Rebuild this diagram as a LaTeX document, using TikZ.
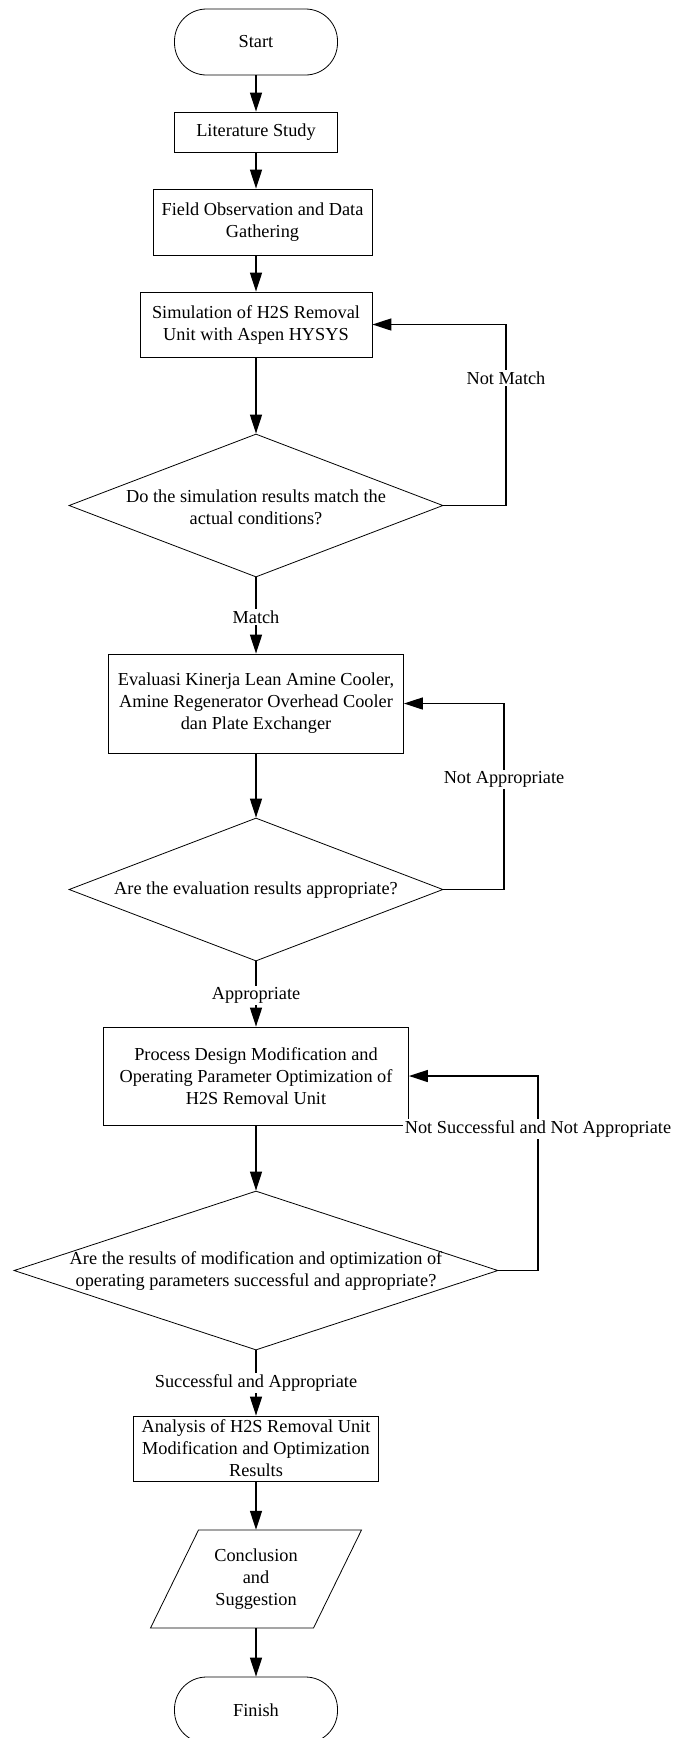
\documentclass[tikz,border=0pt]{standalone}
\usepackage{fontspec}
\setmainfont{Liberation Serif}
\usetikzlibrary{shapes.geometric,arrows.meta}
\begin{document}
\begin{tikzpicture}[x=1pt,y=-1pt,
  every node/.style={font=\fontsize{18.3}{22}\selectfont, align=center, inner sep=0pt},
  box/.style={draw, line width=0.8pt, rectangle},
  term/.style={draw, line width=0.8pt, rectangle, rounded corners=32pt, minimum width=163pt, minimum height=66pt},
  dec/.style={draw, line width=0.8pt, diamond, inner sep=0pt},
  shp/.style={draw, line width=0.8pt},
  arr/.style={line width=1.4pt, -{Triangle[length=19pt,width=12pt]}},
  lbl/.style={fill=white, inner sep=1.5pt}]
\clip (0,0) rectangle (676,1738);
\node[term] (start) at (256,42) {Start};
\node[box, minimum width=163pt, minimum height=40pt] (lit) at (256,132) {Literature Study};
\node[box, minimum width=219pt, minimum height=66pt] (field) at (262.5,222) {Field Observation and Data\\Gathering};
\node[box, minimum width=232pt, minimum height=65pt] (sim) at (256,324.5) {Simulation of H2S Removal\\Unit with Aspen HYSYS};
\node[dec, minimum width=374pt, minimum height=143pt] (d1) at (256,505.5) {};
\node (d1t) at (256,507.5) {Do the simulation results match the\\actual conditions?};
\node[box, minimum width=295pt, minimum height=99pt] (eval) at (256,703.5) {Evaluasi Kinerja Lean Amine Cooler,\\Amine Regenerator Overhead Cooler\\dan Plate Exchanger};
\node[dec, minimum width=374pt, minimum height=143pt] (d2) at (256,889.5) {};
\node (d2t) at (256,890) {Are the evaluation results appropriate?};
\node[box, minimum width=305pt, minimum height=98pt] (proc) at (256,1076) {Process Design Modification and\\Operating Parameter Optimization of\\H2S Removal Unit};
\node[dec, minimum width=484pt, minimum height=159pt] (d3) at (256,1270.5) {};
\node (d3t) at (256,1271) {Are the results of modification and optimization of\\operating parameters successful and appropriate?};
\node[box, minimum width=245pt, minimum height=65pt] (anal) at (256,1448.5) {Analysis of H2S Removal Unit\\Modification and Optimization\\Results};
\node[minimum height=98pt] (concl) at (256,1579) {Conclusion\\and\\Suggestion};
\draw[shp] ([xshift=-57.5pt,yshift=49pt]concl.center) -- ([xshift=105.5pt,yshift=49pt]concl.center)
  -- ([xshift=57.5pt,yshift=-49pt]concl.center) -- ([xshift=-105.5pt,yshift=-49pt]concl.center) -- cycle;
\node[term] (finish) at (256,1710) {Finish};

\draw[arr] (start.south) -- (lit.north);
\draw[arr] (lit.south) -- (lit.south |- field.north);
\draw[arr] (lit.south |- field.south) -- (sim.north);
\draw[arr] (sim.south) -- (d1.north);
\draw[arr] (d1.south) -- (eval.north);
\draw[arr] (eval.south) -- (d2.north);
\draw[arr] (d2.south) -- (proc.north);
\draw[arr] (proc.south) -- (d3.north);
\draw[arr] (d3.south) -- (anal.north);
\draw[arr] (anal.south) -- (concl.north);
\draw[arr] (concl.south) -- (finish.north);

\coordinate (r1) at (506,0);
\coordinate (r2) at (504,0);
\coordinate (r3) at (538,0);
\draw[arr] (d1.east) -- (d1.east -| r1) -- (sim.east -| r1) -- (sim.east);
\draw[arr] (d2.east) -- (d2.east -| r2) -- (eval.east -| r2) -- (eval.east);
\draw[arr] (d3.east) -- (d3.east -| r3) -- (proc.east -| r3) -- (proc.east);

\node[lbl] (lmatch) at (256,617) {Match};
\node[lbl] (lnotmatch) at (506,378) {Not Match};
\node[lbl] (lnotapp) at (504,779) {Not Appropriate};
\node[lbl] (lapp) at (256,995) {Appropriate};
\node[lbl] (lnotsucc) at (538,1129) {Not Successful and Not Appropriate};
\node[lbl] (lsucc) at (256,1383) {Successful and Appropriate};
\end{tikzpicture}
\end{document}
